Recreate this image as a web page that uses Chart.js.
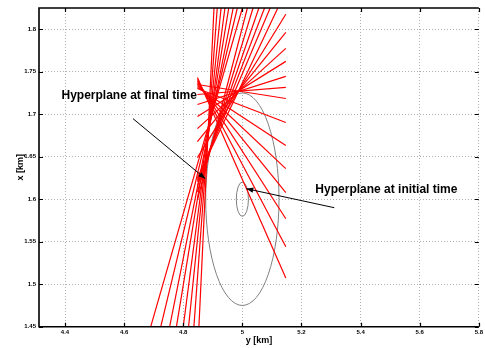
<!DOCTYPE html>
<html>
<head>
<meta charset="utf-8">
<script src="https://cdn.jsdelivr.net/npm/chart.js@4.4.1/dist/chart.umd.min.js"></script>
<style>
  html, body { margin: 0; padding: 0; background: #fff; }
  #wrap { width: 485px; height: 348px; }
</style>
</head>
<body>
<div id="wrap"><canvas id="chart"></canvas></div>
<script>
// axis labels follow the figure: horizontal is "y [km]", vertical is "x [km]"
const xTicks = [4.4, 4.6, 4.8, 5.0, 5.2, 5.4, 5.6, 5.8]
const yTicks = [1.45, 1.5, 1.55, 1.6, 1.65, 1.7, 1.75, 1.8]

// hyperplane segments: (yFrom, xFrom) -> (yTo, xTo)
const yFrom = [
  4.848, 4.848, 4.848, 4.848, 4.848, 4.848, 4.848,
  4.848, 4.848, 4.848, 4.848, 4.848, 4.848, 4.848,
  4.848, 4.848, 4.848, 4.848, 4.848, 4.848,
  4.853, 4.836, 4.818, 4.800, 4.777, 4.754, 4.724, 4.690
]
const xFrom = [
  1.7433, 1.7409, 1.7386, 1.7362, 1.7338, 1.7315, 1.7303,
  1.7350, 1.7232, 1.7114, 1.6973, 1.6831, 1.6678, 1.6489,
  1.6254, 1.6230, 1.6206, 1.6159, 1.6088, 1.5994,
  1.45, 1.45, 1.45, 1.45, 1.45, 1.45, 1.45, 1.45
]
const yTo = [
  5.147, 5.147, 5.147, 5.147, 5.147, 5.147, 5.147,
  5.147, 5.147, 5.147, 5.147, 5.147, 5.147, 5.147,
  5.120, 5.094, 5.075, 5.056, 5.036, 5.017,
  4.904, 4.915, 4.928, 4.941, 4.954, 4.969, 4.983, 5.000
]
const xTo = [
  1.5074, 1.5440, 1.5770, 1.6077, 1.6360, 1.6631, 1.6902,
  1.7185, 1.7315, 1.7445, 1.7622, 1.7775, 1.7964, 1.8176,
  1.825, 1.825, 1.825, 1.825, 1.825, 1.825,
  1.825, 1.825, 1.825, 1.825, 1.825, 1.825, 1.825, 1.825
]

// gray ellipses (center and half axes, km)
const ellY = [5.0, 5.0]
const ellX = [1.6, 1.6]
const ellRadY = [0.124, 0.0205]
const ellRadX = [0.125, 0.0202]

// annotations
const noteText = ['Hyperplane at final time', 'Hyperplane at initial time']
const noteY = [4.388, 5.247]
const noteX = [1.722, 1.611]
const arrowFromY = [4.630, 5.311]
const arrowFromX = [1.6948, 1.590]
const arrowToY = [4.8748, 5.0134]
const arrowToX = [1.6242, 1.6124]

const FONT = "'Liberation Sans', Arial, Helvetica, sans-serif"

const datasets = yFrom.map((v, i) => ({
  data: [{ x: v, y: xFrom[i] }, { x: yTo[i], y: xTo[i] }],
  showLine: true,
  borderColor: '#ff0000',
  borderWidth: 1.2,
  pointRadius: 0,
  fill: false,
}))

const overlay = {
  id: 'overlay',
  beforeDatasetsDraw(chart) {
    const { ctx, chartArea: a, scales: { x, y } } = chart
    ctx.save()
    ctx.beginPath()
    ctx.rect(a.left, a.top, a.right - a.left, a.bottom - a.top)
    ctx.clip()
    ctx.strokeStyle = '#808080'
    ctx.lineWidth = 1
    ellY.forEach((cy, i) => {
      const px = x.getPixelForValue(cy)
      const py = y.getPixelForValue(ellX[i])
      const rx = Math.abs(x.getPixelForValue(cy + ellRadY[i]) - px)
      const ry = Math.abs(y.getPixelForValue(ellX[i] + ellRadX[i]) - py)
      ctx.beginPath()
      ctx.ellipse(px, py, rx, ry, 0, 0, Math.PI * 2)
      ctx.stroke()
    })
    ctx.restore()
  },
  afterDatasetsDraw(chart) {
    const { ctx, chartArea: a, scales: { x, y } } = chart
    ctx.save()
    // box and inward ticks
    ctx.strokeStyle = '#000'
    ctx.lineWidth = 1.6
    ctx.beginPath()
    ctx.moveTo(a.right, a.top)
    ctx.lineTo(a.left, a.top)
    ctx.lineTo(a.left, a.bottom)
    ctx.lineTo(a.right, a.bottom)
    ctx.stroke()
    ctx.lineWidth = 1.2
    ctx.beginPath()
    xTicks.forEach(v => {
      const px = Math.round(x.getPixelForValue(v)) + 0.5
      ctx.moveTo(px, a.bottom); ctx.lineTo(px, a.bottom - 4)
      ctx.moveTo(px, a.top); ctx.lineTo(px, a.top + 4)
    })
    yTicks.forEach(v => {
      const py = Math.round(y.getPixelForValue(v)) + 0.5
      ctx.moveTo(a.left, py); ctx.lineTo(a.left + 4, py)
      ctx.moveTo(a.right, py); ctx.lineTo(a.right - 4, py)
    })
    ctx.stroke()

    // arrows
    ctx.lineWidth = 1
    ctx.fillStyle = '#000'
    arrowFromY.forEach((v, i) => {
      const x0 = x.getPixelForValue(v), y0 = y.getPixelForValue(arrowFromX[i])
      const x1 = x.getPixelForValue(arrowToY[i]), y1 = y.getPixelForValue(arrowToX[i])
      ctx.beginPath(); ctx.moveTo(x0, y0); ctx.lineTo(x1, y1); ctx.stroke()
      const ang = Math.atan2(y1 - y0, x1 - x0)
      const len = 7, half = 2.6
      ctx.beginPath()
      ctx.moveTo(x1, y1)
      ctx.lineTo(x1 - len * Math.cos(ang) + half * Math.sin(ang), y1 - len * Math.sin(ang) - half * Math.cos(ang))
      ctx.lineTo(x1 - len * Math.cos(ang) - half * Math.sin(ang), y1 - len * Math.sin(ang) + half * Math.cos(ang))
      ctx.closePath(); ctx.fill()
    })

    // notes
    ctx.font = 'bold 12px ' + FONT
    ctx.textAlign = 'left'
    ctx.textBaseline = 'middle'
    noteText.forEach((t, i) => {
      ctx.fillText(t, x.getPixelForValue(noteY[i]), y.getPixelForValue(noteX[i]))
    })
    ctx.restore()
  }
}

new Chart(document.getElementById('chart'), {
  type: 'scatter',
  data: { datasets },
  options: {
    responsive: true,
    maintainAspectRatio: false,
    animation: false,
    layout: { padding: { top: 8, right: 2, left: 0, bottom: 0 } },
    plugins: { legend: { display: false }, tooltip: { enabled: false } },
    scales: {
      x: {
        type: 'linear',
        min: 4.312,
        max: 5.8,
        afterBuildTicks: s => { s.ticks = xTicks.map(v => ({ value: v })) },
        afterFit: s => { s.height = 21.3 },
        ticks: {
          padding: 2,
          color: '#000',
          font: { family: FONT, size: 6, weight: 'bold' },
          callback: v => String(Number(v.toFixed(2))),
          maxRotation: 0,
        },
        grid: { color: '#b0b0b0', drawTicks: false },
        border: { display: false, dash: [1, 2] },
        title: {
          display: true,
          text: 'y [km]',
          color: '#000',
          font: { family: FONT, size: 9, weight: 'bold' },
          padding: { top: 0, bottom: 2.5 },
        },
      },
      y: {
        type: 'linear',
        min: 1.45,
        max: 1.825,
        afterBuildTicks: s => { s.ticks = yTicks.map(v => ({ value: v })) },
        afterFit: s => { s.width = 39 },
        ticks: {
          padding: 3,
          color: '#000',
          font: { family: FONT, size: 6, weight: 'bold' },
          callback: v => String(Number(v.toFixed(2))),
        },
        grid: { color: '#b0b0b0', drawTicks: false },
        border: { display: false, dash: [1, 2] },
        title: {
          display: true,
          text: 'x [km]',
          color: '#000',
          font: { family: FONT, size: 9, weight: 'bold' },
          padding: { top: 15, bottom: 0 },
        },
      },
    },
  },
  plugins: [overlay],
})
</script>
</body>
</html>
